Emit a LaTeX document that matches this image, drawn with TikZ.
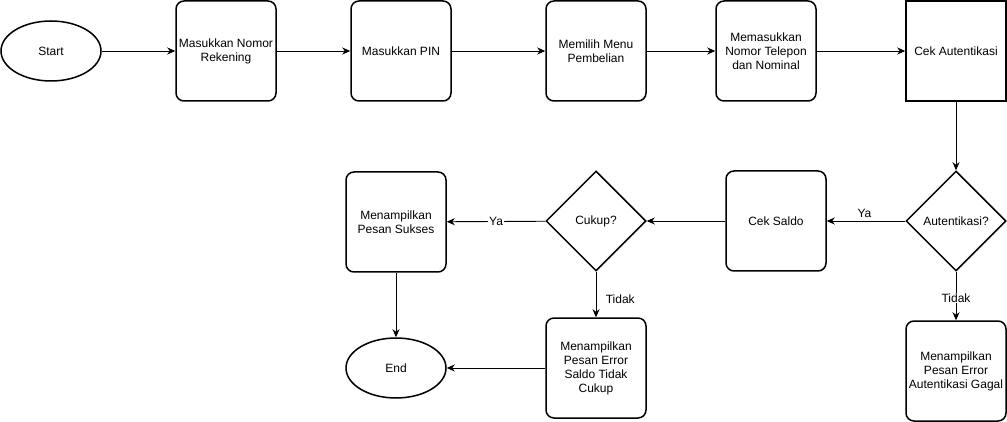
\documentclass[tikz,border=0pt]{standalone}
\usepackage{fontspec}
\setmainfont{Liberation Sans}
\usetikzlibrary{shapes.geometric,arrows.meta}

\begin{document}
\begin{tikzpicture}[
            x=1pt, y=-1pt,
            every node/.style={font=\fontsize{12}{14}\selectfont, align=center},
            procbox/.style={draw, line width=1.5pt, rounded corners=8pt, minimum width=100pt, minimum height=100pt, inner sep=0pt},
            plainbox/.style={draw, line width=1.5pt, minimum width=100pt, minimum height=100pt, inner sep=0pt},
            termnode/.style={draw, line width=1.5pt, ellipse, minimum width=100pt, minimum height=60pt, inner sep=0pt},
            decision/.style={draw, line width=1.5pt, diamond, minimum width=100pt, minimum height=100pt, inner sep=0pt},
            flow/.style={-{Stealth[length=8pt,width=7pt,inset=2.5pt]}, line width=0.9pt},
            edgelabel/.style={fill=white, inner sep=1pt}
        ]
            \useasboundingbox (0,0) rectangle (1007,422);

            \node[termnode] (start) at (51,51) {Start};
            \node[procbox] (rekening) at (226,51) {Masukkan Nomor\\Rekening};
            \node[procbox] (pin) at (401,51) {Masukkan PIN};
            \node[procbox] (menu) at (596,51) {Memilih Menu\\Pembelian};
            \node[procbox] (nomor) at (766,51) {Memasukkan\\Nomor Telepon\\dan Nominal};
            \node[plainbox] (cekauth) at (956,51) {Cek Autentikasi};

            \node[decision] (auth) at (956,221) {Autentikasi?};
            \node[procbox] (saldo) at (776,221) {Cek Saldo};
            \node[decision] (cukup) at (596,221) {Cukup?};
            \node[procbox] (sukses) at (396,222) {Menampilkan\\Pesan Sukses};

            \node[procbox] (gagal) at (956,371) {Menampilkan\\Pesan Error\\Autentikasi Gagal};
            \node[procbox] (kurang) at (596,368) {Menampilkan\\Pesan Error\\Saldo Tidak\\Cukup};
            \node[termnode] (end) at (396,368) {End};

            \draw[flow] (start) -- (rekening);
            \draw[flow] (rekening) -- (pin);
            \draw[flow] (pin) -- (menu);
            \draw[flow] (menu) -- (nomor);
            \draw[flow] (nomor) -- (cekauth);
            \draw[flow] (cekauth) -- (auth);

            \draw[flow] (auth) -- node[above, pos=0.52] {Ya} (saldo);
            \draw[flow] (auth) -- node[edgelabel, pos=0.54] {Tidak} (gagal);
            \draw[flow] (saldo) -- (cukup);
            \draw[flow] (cukup) -- node[edgelabel, pos=0.5] {Ya} (sukses);
            \draw[flow] (cukup) -- node[right, pos=0.6, xshift=6pt] {Tidak} (kurang);

            \draw[flow] (sukses) -- (end);
            \draw[flow] (kurang) -- (end);
        \end{tikzpicture}
\end{document}
